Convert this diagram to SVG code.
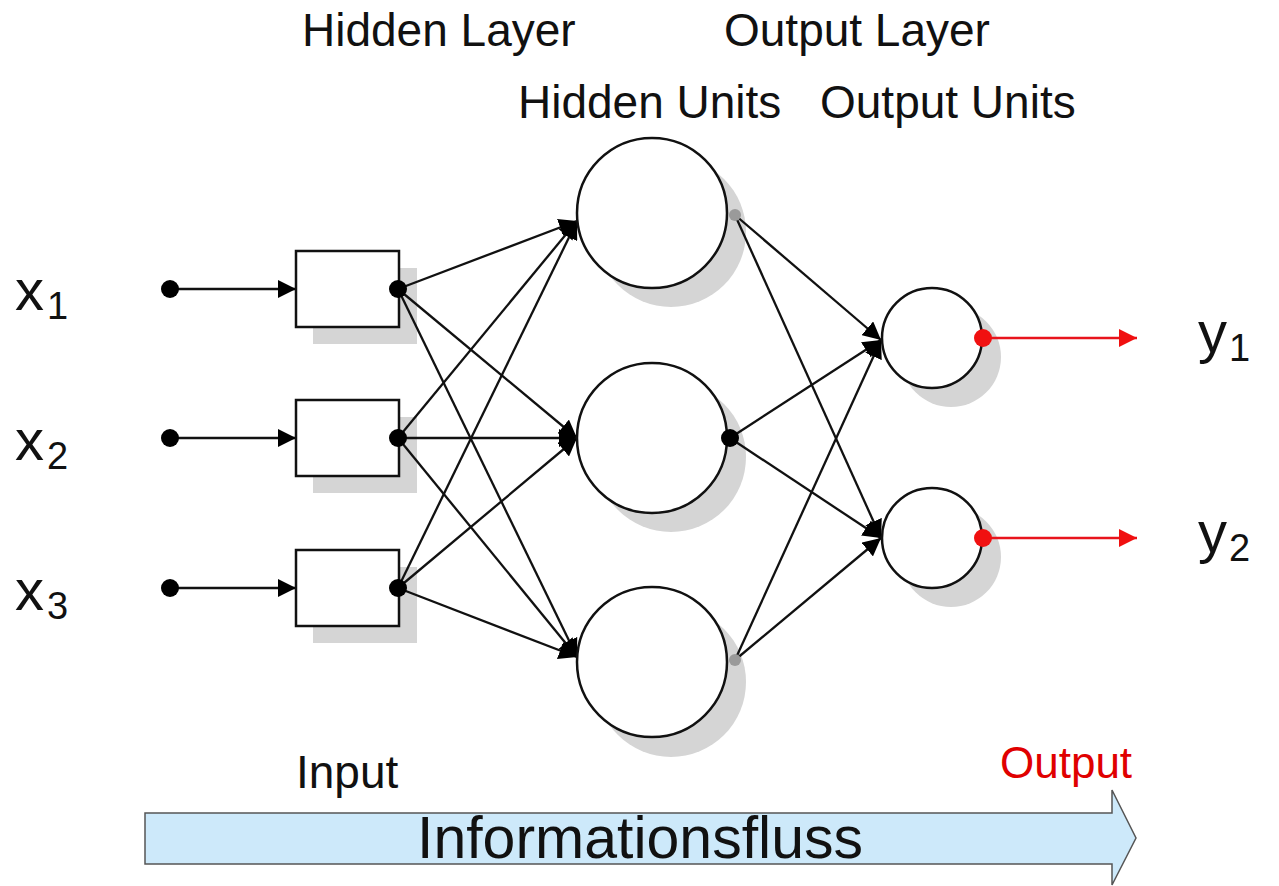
<svg xmlns="http://www.w3.org/2000/svg" width="1279" height="886" viewBox="0 0 1279 886">
<defs>
<style>
text{font-family:"Liberation Sans",Arial,sans-serif;fill:#111}
.lbl{font-size:46px}
.var{font-size:58px}
.sub{font-size:38px}
.shadow{fill:#d5d5d5;stroke:none}
.box{fill:#fff;stroke:#111;stroke-width:2.5}
.unit{fill:#fff;stroke:#111;stroke-width:2.5}
.edge{stroke:#111;stroke-width:2.3;fill:none}
.red{stroke:#e8141c;stroke-width:2.3;fill:none}
.dot{fill:#000}
.gdot{fill:#9a9a9a}
.rdot{fill:#f01010}
</style>
<marker id="ah" markerUnits="userSpaceOnUse" markerWidth="20" markerHeight="18" refX="18" refY="9" orient="auto"><path d="M0,0 L18,9 L0,18 z" fill="#000"/></marker>
<marker id="ahr" markerUnits="userSpaceOnUse" markerWidth="20" markerHeight="18" refX="18" refY="9" orient="auto"><path d="M0,0 L18,9 L0,18 z" fill="#f01010"/></marker>
</defs>
<rect width="1279" height="886" fill="#fff"/>

<g id="labels">
<text class="lbl" x="302" y="46">Hidden Layer</text>
<text class="lbl" x="724" y="46">Output Layer</text>
<text class="lbl" x="518" y="118">Hidden Units</text>
<text class="lbl" x="820" y="118">Output Units</text>
<text class="lbl" x="296" y="788">Input</text>
<text x="1000" y="778" style="font-size:44px;fill:#e00000">Output</text>
</g>

<g id="inputs">
<text class="var" x="15" y="310">x<tspan class="sub" dx="3" dy="9">1</tspan></text>
<text class="var" x="15" y="460">x<tspan class="sub" dx="3" dy="9">2</tspan></text>
<text class="var" x="15" y="610">x<tspan class="sub" dx="3" dy="9">3</tspan></text>
</g>
<g id="outputs">
<text class="var" x="1198" y="352">y<tspan class="sub" dx="2" dy="9">1</tspan></text>
<text class="var" x="1198" y="552">y<tspan class="sub" dx="2" dy="9">2</tspan></text>
</g>

<g id="shadows">
<rect class="shadow" x="313" y="268" width="104" height="76"/>
<rect class="shadow" x="313" y="417" width="104" height="76"/>
<rect class="shadow" x="313" y="567" width="104" height="76"/>
<circle class="shadow" cx="671" cy="232" r="75"/>
<circle class="shadow" cx="671" cy="457" r="75"/>
<circle class="shadow" cx="671" cy="682" r="75"/>
<circle class="shadow" cx="951" cy="357" r="50"/>
<circle class="shadow" cx="951" cy="557" r="50"/>
</g>

<g id="connectors">
<line class="edge" x1="170" y1="289" x2="296" y2="289" marker-end="url(#ah)"/>
<line class="edge" x1="170" y1="438" x2="296" y2="438" marker-end="url(#ah)"/>
<line class="edge" x1="170" y1="588" x2="296" y2="588" marker-end="url(#ah)"/>
<line class="edge" x1="398" y1="289" x2="577" y2="221" marker-end="url(#ah)"/>
<line class="edge" x1="398" y1="289" x2="577" y2="438" marker-end="url(#ah)"/>
<line class="edge" x1="398" y1="289" x2="577" y2="657" marker-end="url(#ah)"/>
<line class="edge" x1="398" y1="438" x2="577" y2="221" marker-end="url(#ah)"/>
<line class="edge" x1="398" y1="438" x2="577" y2="438" marker-end="url(#ah)"/>
<line class="edge" x1="398" y1="438" x2="577" y2="657" marker-end="url(#ah)"/>
<line class="edge" x1="398" y1="588" x2="577" y2="221" marker-end="url(#ah)"/>
<line class="edge" x1="398" y1="588" x2="577" y2="438" marker-end="url(#ah)"/>
<line class="edge" x1="398" y1="588" x2="577" y2="657" marker-end="url(#ah)"/>
<line class="edge" x1="735" y1="215" x2="881" y2="340" marker-end="url(#ah)"/>
<line class="edge" x1="735" y1="215" x2="881" y2="538" marker-end="url(#ah)"/>
<line class="edge" x1="730" y1="438" x2="881" y2="340" marker-end="url(#ah)"/>
<line class="edge" x1="730" y1="438" x2="881" y2="538" marker-end="url(#ah)"/>
<line class="edge" x1="735" y1="660" x2="881" y2="340" marker-end="url(#ah)"/>
<line class="edge" x1="735" y1="660" x2="881" y2="538" marker-end="url(#ah)"/>
<line class="red" x1="983" y1="338" x2="1137" y2="338" marker-end="url(#ahr)"/>
<line class="red" x1="983" y1="538" x2="1137" y2="538" marker-end="url(#ahr)"/>
</g>

<g id="in1"><circle class="dot" cx="170" cy="289" r="9"/><rect class="box" x="296" y="251" width="103" height="76"/><circle class="dot" cx="398" cy="289" r="9"/></g>
<g id="in2"><circle class="dot" cx="170" cy="438" r="9"/><rect class="box" x="296" y="400" width="103" height="76"/><circle class="dot" cx="398" cy="438" r="9"/></g>
<g id="in3"><circle class="dot" cx="170" cy="588" r="9"/><rect class="box" x="296" y="550" width="103" height="76"/><circle class="dot" cx="398" cy="588" r="9"/></g>

<g id="h1"><circle class="unit" cx="652" cy="213" r="75"/><circle class="gdot" cx="735" cy="215" r="6"/></g>
<g id="h2"><circle class="unit" cx="652" cy="438" r="75"/><circle class="dot" cx="730" cy="438" r="9"/></g>
<g id="h3"><circle class="unit" cx="652" cy="662" r="75"/><circle class="gdot" cx="735" cy="660" r="6"/></g>

<g id="o1"><circle class="unit" cx="932" cy="338" r="50"/><circle class="rdot" cx="983" cy="338" r="9"/></g>
<g id="o2"><circle class="unit" cx="932" cy="538" r="50"/><circle class="rdot" cx="983" cy="538" r="9"/></g>

<g id="flow">
<polygon points="145,813 1112,813 1112,790 1136,838 1112,885 1112,864 145,864" fill="#cde9fa" stroke="#555" stroke-width="1.5"/>
<text x="640" y="858" text-anchor="middle" style="font-size:59px">Informationsfluss</text>
</g>
</svg>
